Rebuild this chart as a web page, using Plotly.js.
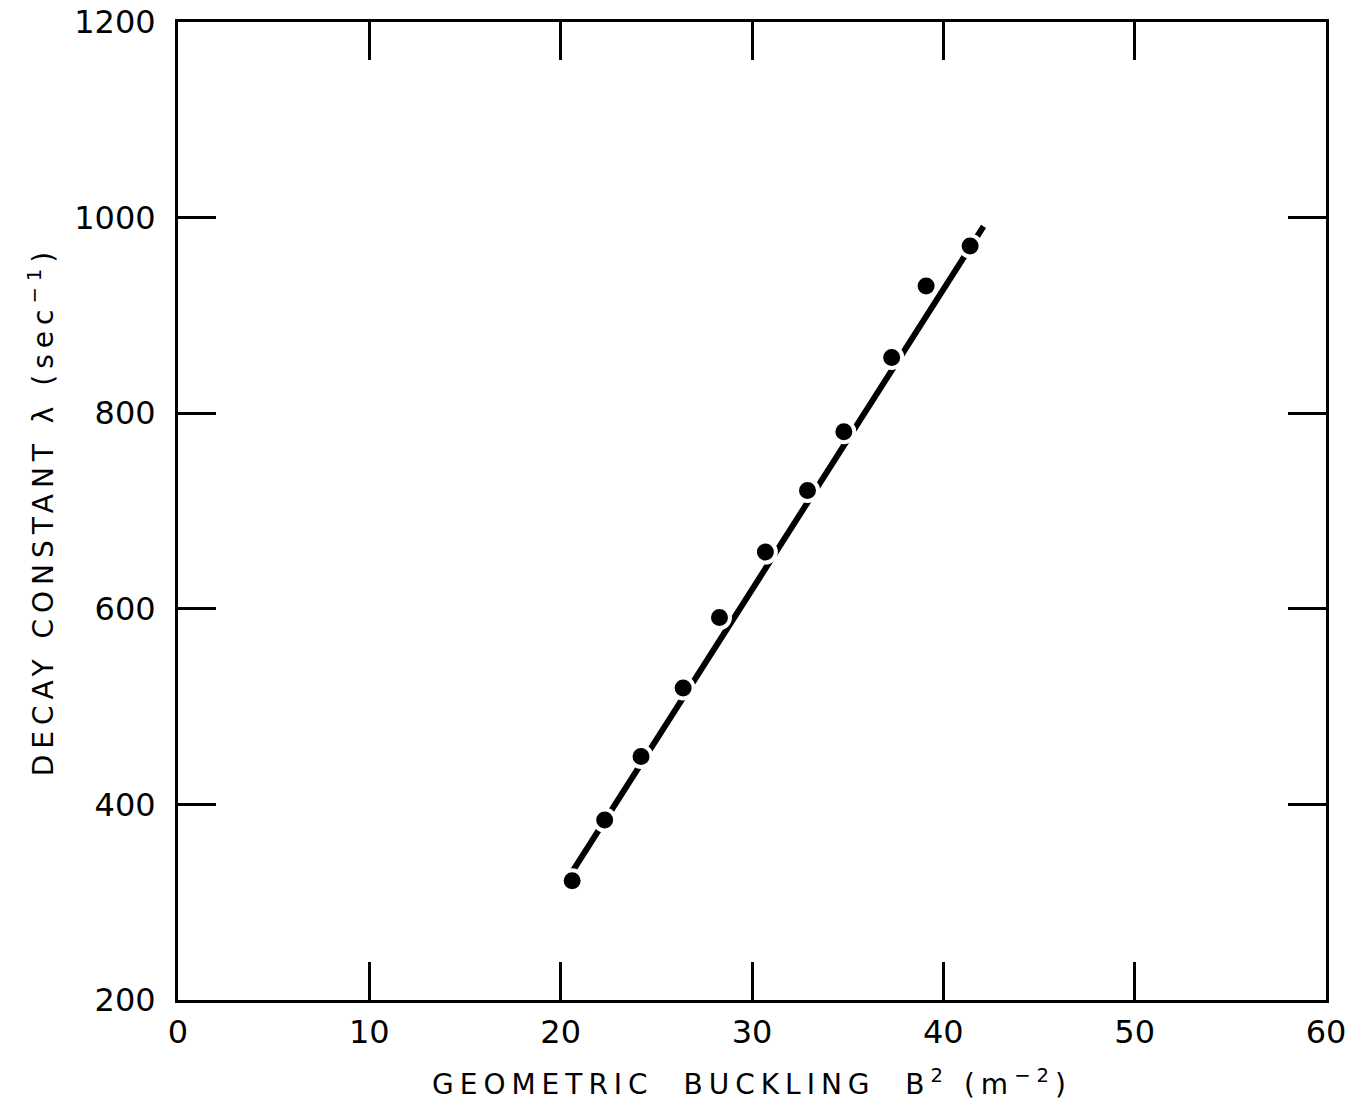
<!DOCTYPE html>
<html>
<head>
<meta charset="utf-8">
<script src="https://cdn.plot.ly/plotly-3.0.1.min.js"></script>
<style>
  body { margin: 0; background: #fff; }
  #chart { width: 1353px; height: 1108px; }
  .xtitle, .ytitle { letter-spacing: 6px; }
</style>
</head>
<body>
<div id="chart"></div>
<script>
// Measured data points: geometric buckling B^2 (m^-2) vs decay constant lambda (sec^-1)
const bucklingB2 = [20.6, 22.3, 24.2, 26.4, 28.3, 30.7, 32.9, 34.8, 37.3, 39.1, 41.4];
const decayLambda = [322, 384, 449, 519, 591, 658, 721, 781, 857, 930, 971];

// Fitted straight line endpoints (as drawn)
const fitB2 = [20.5, 42.1];
const fitLambda = [328, 991];

// Axis ticks
const xTicks = [0, 10, 20, 30, 40, 50, 60];
const yTicks = [200, 400, 600, 800, 1000, 1200];

const font = 'DejaVu Sans, Liberation Sans, sans-serif';

const traces = [
  {
    x: fitB2, y: fitLambda, mode: 'lines', type: 'scatter',
    line: { color: '#000', width: 6 }, hoverinfo: 'skip', showlegend: false
  },
  {
    x: bucklingB2, y: decayLambda, mode: 'markers', type: 'scatter',
    marker: { color: '#000', size: 21, line: { color: '#fff', width: 4 } },
    showlegend: false
  }
];

const axisCommon = {
  showgrid: false, zeroline: false,
  showline: true, linecolor: '#000', linewidth: 3,
  mirror: 'ticks', ticks: 'inside', ticklen: 38, tickwidth: 3, tickcolor: '#000',
  tickfont: { family: font, size: 32, color: '#000' }
};

const layout = {
  width: 1353, height: 1108,
  margin: { l: 178, r: 27, t: 22, b: 108 },
  paper_bgcolor: '#fff', plot_bgcolor: '#fff',
  xaxis: Object.assign({}, axisCommon, {
    range: [0, 60], tickvals: xTicks, ticktext: xTicks.map(String),
    ticklabelstandoff: 2,
    title: { text: 'GEOMETRIC\u00A0\u00A0BUCKLING\u00A0\u00A0B<sup>2</sup>\u00A0(m<sup>\u22122</sup>)',
             font: { family: font, size: 28, color: '#000' }, standoff: 24 }
  }),
  yaxis: Object.assign({}, axisCommon, {
    range: [200, 1200], tickvals: yTicks, ticktext: yTicks.map(String),
    ticklabelstandoff: 13,
    title: { text: 'DECAY\u00A0CONSTANT\u00A0\u03BB\u00A0(sec<sup>\u22121</sup>)',
             font: { family: font, size: 28, color: '#000' }, standoff: 13 }
  })
};

Plotly.newPlot('chart', traces, layout, { staticPlot: true, displayModeBar: false });
</script>
</body>
</html>
